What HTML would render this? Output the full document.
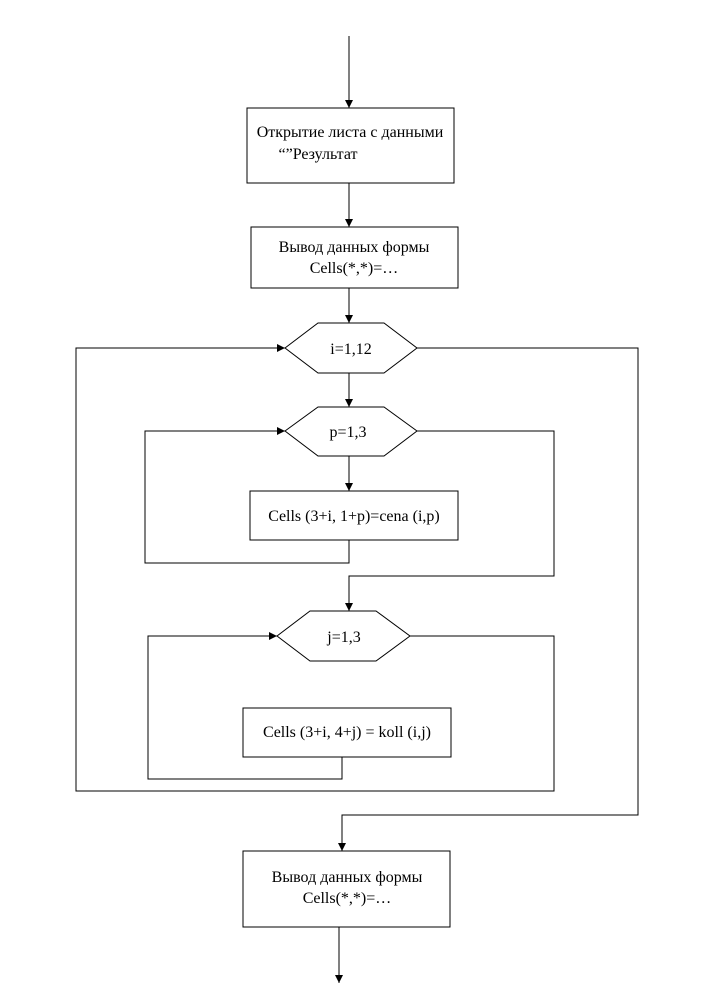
<!DOCTYPE html>
<html><head><meta charset="utf-8"><style>
body{margin:0;background:#fff}
svg{display:block}
text{font-family:"Liberation Serif",serif;font-size:16px;fill:#000;text-anchor:middle}
</style></head><body>
<svg width="707" height="996" viewBox="0 0 707 996" xmlns="http://www.w3.org/2000/svg">
<defs><marker id="a" markerWidth="8" markerHeight="8" refX="8" refY="4" orient="auto" markerUnits="userSpaceOnUse"><path d="M0,0 L8,4 L0,8 z" fill="#000"/></marker></defs>
<g stroke="#000" stroke-width="1" fill="none">
<line x1="349" y1="36" x2="349" y2="108" marker-end="url(#a)"/>
<rect x="247" y="108" width="207" height="75"/>
<line x1="349" y1="183" x2="349" y2="227" marker-end="url(#a)"/>
<rect x="251" y="227" width="207" height="61"/>
<line x1="349" y1="288" x2="349" y2="323" marker-end="url(#a)"/>
<polygon points="285,348 318,323 384,323 417,348 384,373 318,373"/>
<polyline points="417,348 638,348 638,815 342,815 342,851" marker-end="url(#a)"/>
<polyline points="410,636 554,636 554,791 76,791 76,348 285,348" marker-end="url(#a)"/>
<line x1="349" y1="373" x2="349" y2="407" marker-end="url(#a)"/>
<polygon points="285,431 318,407 384,407 417,431 384,456 318,456"/>
<line x1="349" y1="456" x2="349" y2="491" marker-end="url(#a)"/>
<rect x="250" y="491" width="208" height="49"/>
<polyline points="349,540 349,563 145,563 145,431 285,431" marker-end="url(#a)"/>
<polyline points="417,431 554,431 554,576 349,576 349,611" marker-end="url(#a)"/>
<polygon points="277,636 310,611 376,611 410,636 376,661 310,661"/>
<rect x="243" y="708" width="208" height="49"/>
<polyline points="342,757 342,779 148,779 148,636 277,636" marker-end="url(#a)"/>
<rect x="243" y="851" width="207" height="76"/>
<line x1="339" y1="927" x2="339" y2="983" marker-end="url(#a)"/>
</g>
<text x="350" y="137">Открытие листа с данными</text>
<text x="318" y="159">“”Результат</text>
<text x="354" y="252">Вывод данных формы</text>
<text x="354" y="273">Cells(*,*)=…</text>
<text x="351" y="354">i=1,12</text>
<text x="348" y="437">p=1,3</text>
<text x="354" y="521">Cells (3+i, 1+p)=cena (i,p)</text>
<text x="344" y="642">j=1,3</text>
<text x="347" y="737">Cells (3+i, 4+j) = koll (i,j)</text>
<text x="347" y="882">Вывод данных формы</text>
<text x="347" y="903">Cells(*,*)=…</text>
</svg>
</body></html>
